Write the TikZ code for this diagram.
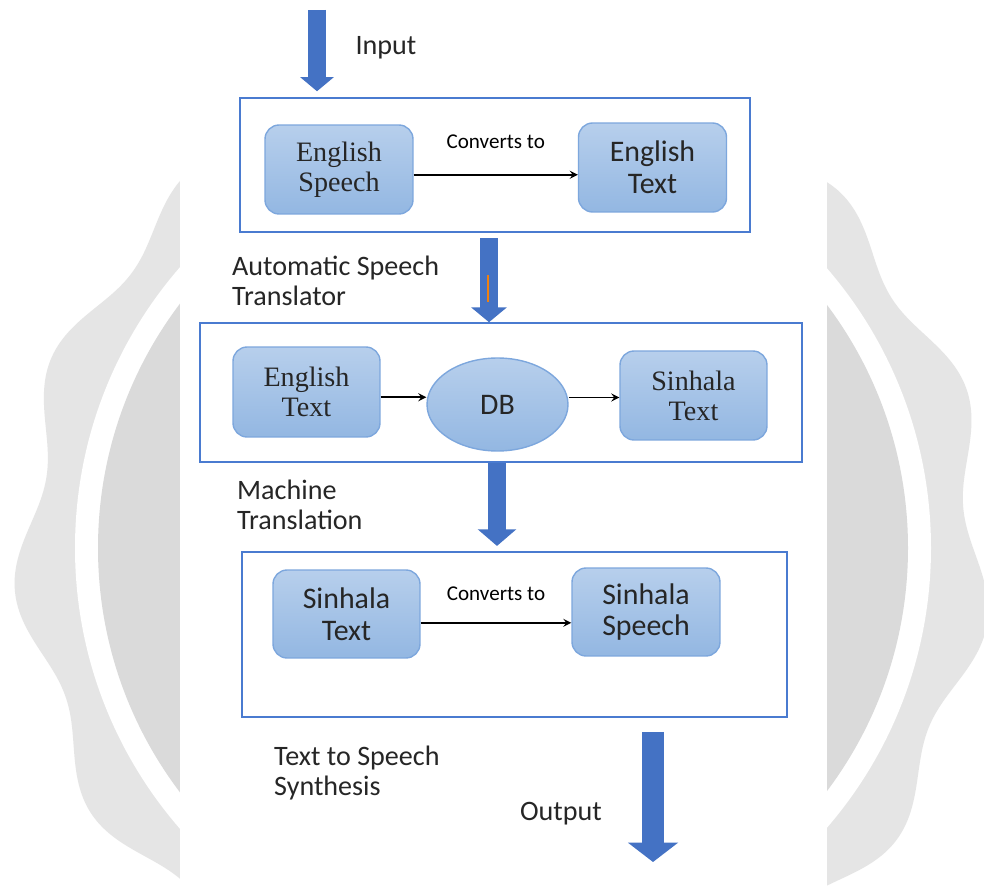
\documentclass[tikz,border=0pt]{standalone}
\usepackage{fontspec}
\setmainfont{Liberation Serif}
\setsansfont{Carlito}
\usetikzlibrary{arrows.meta,shapes.geometric}

\definecolor{framecol}{HTML}{4A7BD0}
\definecolor{arrowcol}{HTML}{4472C4}
\definecolor{boxtop}{HTML}{B7CFEC}
\definecolor{boxbot}{HTML}{93B7E2}
\definecolor{boxline}{HTML}{7DA7DD}
\definecolor{sealout}{HTML}{E5E5E5}
\definecolor{sealin}{HTML}{DADADA}

\begin{document}
\begin{tikzpicture}[x=0.02cm,y=-0.02cm,
    stagebox/.style={draw=framecol,line width=0.9pt,inner sep=0pt},
    procbox/.style={rounded corners=8pt,draw=boxline,line width=0.8pt,top color=boxtop,bottom color=boxbot,
      minimum width=2.96cm,minimum height=1.78cm,align=center,inner sep=0pt,text=black!85},
    serif/.style={font=\rmfamily\fontsize{16}{17}\selectfont},
    sans/.style={font=\sffamily\fontsize{17}{18}\selectfont},
    lbl/.style={font=\sffamily\fontsize{16}{17}\selectfont,align=left,text=black!85},
    conv/.style={line width=1pt,black,-stealth},
    blockarrow/.style={arrowcol,line width=10.2pt,-{Triangle[width=20pt,length=8.5pt]}}]
    \useasboundingbox (0,0) rectangle (984,888);
    \fill[white] (0,0) rectangle (984,888);

    % watermark seal behind the page
    \begin{scope}[shift={(503,548)}]
      \fill[sealout] plot[domain=0:359,samples=360,smooth cycle] (\x:{476+14*cos(13*(\x-175))});
      \fill[white] (0,0) circle[radius=428];
      \fill[sealin] (0,0) circle[radius=405];
    \end{scope}
    \fill[white] (180,0) rectangle (827,888);

    \coordinate (intop) at (317,10);
    \coordinate (asr) at (489,0);
    \coordinate (mt) at (497,0);
    \coordinate (outend) at (653,862);

    % stage 1
    \node[stagebox,minimum width=10.2cm,minimum height=2.68cm] (stage1) at (495,165) {};
    \node[procbox,serif] (engspeech) at (339,169.5) {English\\Speech};
    \node[procbox,sans] (engtext) at (652.5,167.5) {English\\Text};
    \draw[conv] ([yshift=-3pt]engspeech.east) -- ([yshift=-3pt]engspeech.east -| engtext.west)
        node[midway,above=11pt,font=\sffamily\fontsize{12}{14}\selectfont]{Converts to};

    % stage 2
    \node[stagebox,minimum width=12.04cm,minimum height=2.78cm] (stage2) at (501,392.5) {};
    \node[procbox,serif,minimum width=2.94cm,minimum height=1.8cm] (engtextb) at (306.5,392) {English\\Text};
    \node[ellipse,draw=boxline,line width=0.8pt,top color=boxtop,bottom color=boxbot,
        minimum width=2.82cm,minimum height=1.86cm,inner sep=0pt,sans,text=black!85] (db) at (497.5,404.5) {DB};
    \node[procbox,serif,minimum width=2.94cm] (sintext) at (693.5,395.5) {Sinhala\\Text};
    \draw[conv] ([yshift=-3pt]engtextb.east) -- ([yshift=-3pt]engtextb.east -| db.west);
    \draw[conv] ([yshift=4pt]db.east) -- ([yshift=4pt]db.east -| sintext.west);

    % stage 3
    \node[stagebox,minimum width=10.9cm,minimum height=3.3cm] (stage3) at (514.5,634.5) {};
    \node[procbox,sans,minimum width=2.94cm,minimum height=1.76cm] (sintextb) at (346.5,614) {Sinhala\\Text};
    \node[procbox,sans,minimum height=1.76cm] (sinspeech) at (646,612) {Sinhala\\Speech};
    \draw[conv] ([yshift=-5pt]sintextb.east) -- ([yshift=-5pt]sintextb.east -| sinspeech.west)
        node[midway,above=9pt,font=\sffamily\fontsize{12}{14}\selectfont]{Converts to};

    % block arrows between the stages
    \draw[blockarrow,-{Triangle[width=18.7pt,length=8pt]},shorten >=3.4pt] (intop) -- (intop |- stage1.north);
    \draw[blockarrow,line width=10.8pt,shorten <=3pt] (stage1.south -| asr) -- (stage2.north -| asr);
    \draw[orange!75!brown,line width=0.6pt] (488,275) -- (488,302);
    \draw[blockarrow,-{Triangle[width=21.5pt,length=9.5pt]},shorten >=3pt] (stage2.south -| mt) -- (stage3.north -| mt);
    \draw[blockarrow,line width=12.5pt,-{Triangle[width=28pt,length=11pt]},shorten <=8pt] (stage3.south -| outend) -- (outend);

    % labels
    \node[lbl] (inlbl) at (386,48) {Input};
    \node[lbl,anchor=west] (asrlbl) at (226,281) {Automatic Speech\\Translator};
    \node[lbl,anchor=west] (mtlbl) at (231,505) {Machine\\Translation};
    \node[lbl,anchor=west] (ttslbl) at (268,773) {Text to Speech\\Synthesis};
    \node[lbl] (outlbl) at (561,814) {Output};
\end{tikzpicture}
\end{document}
